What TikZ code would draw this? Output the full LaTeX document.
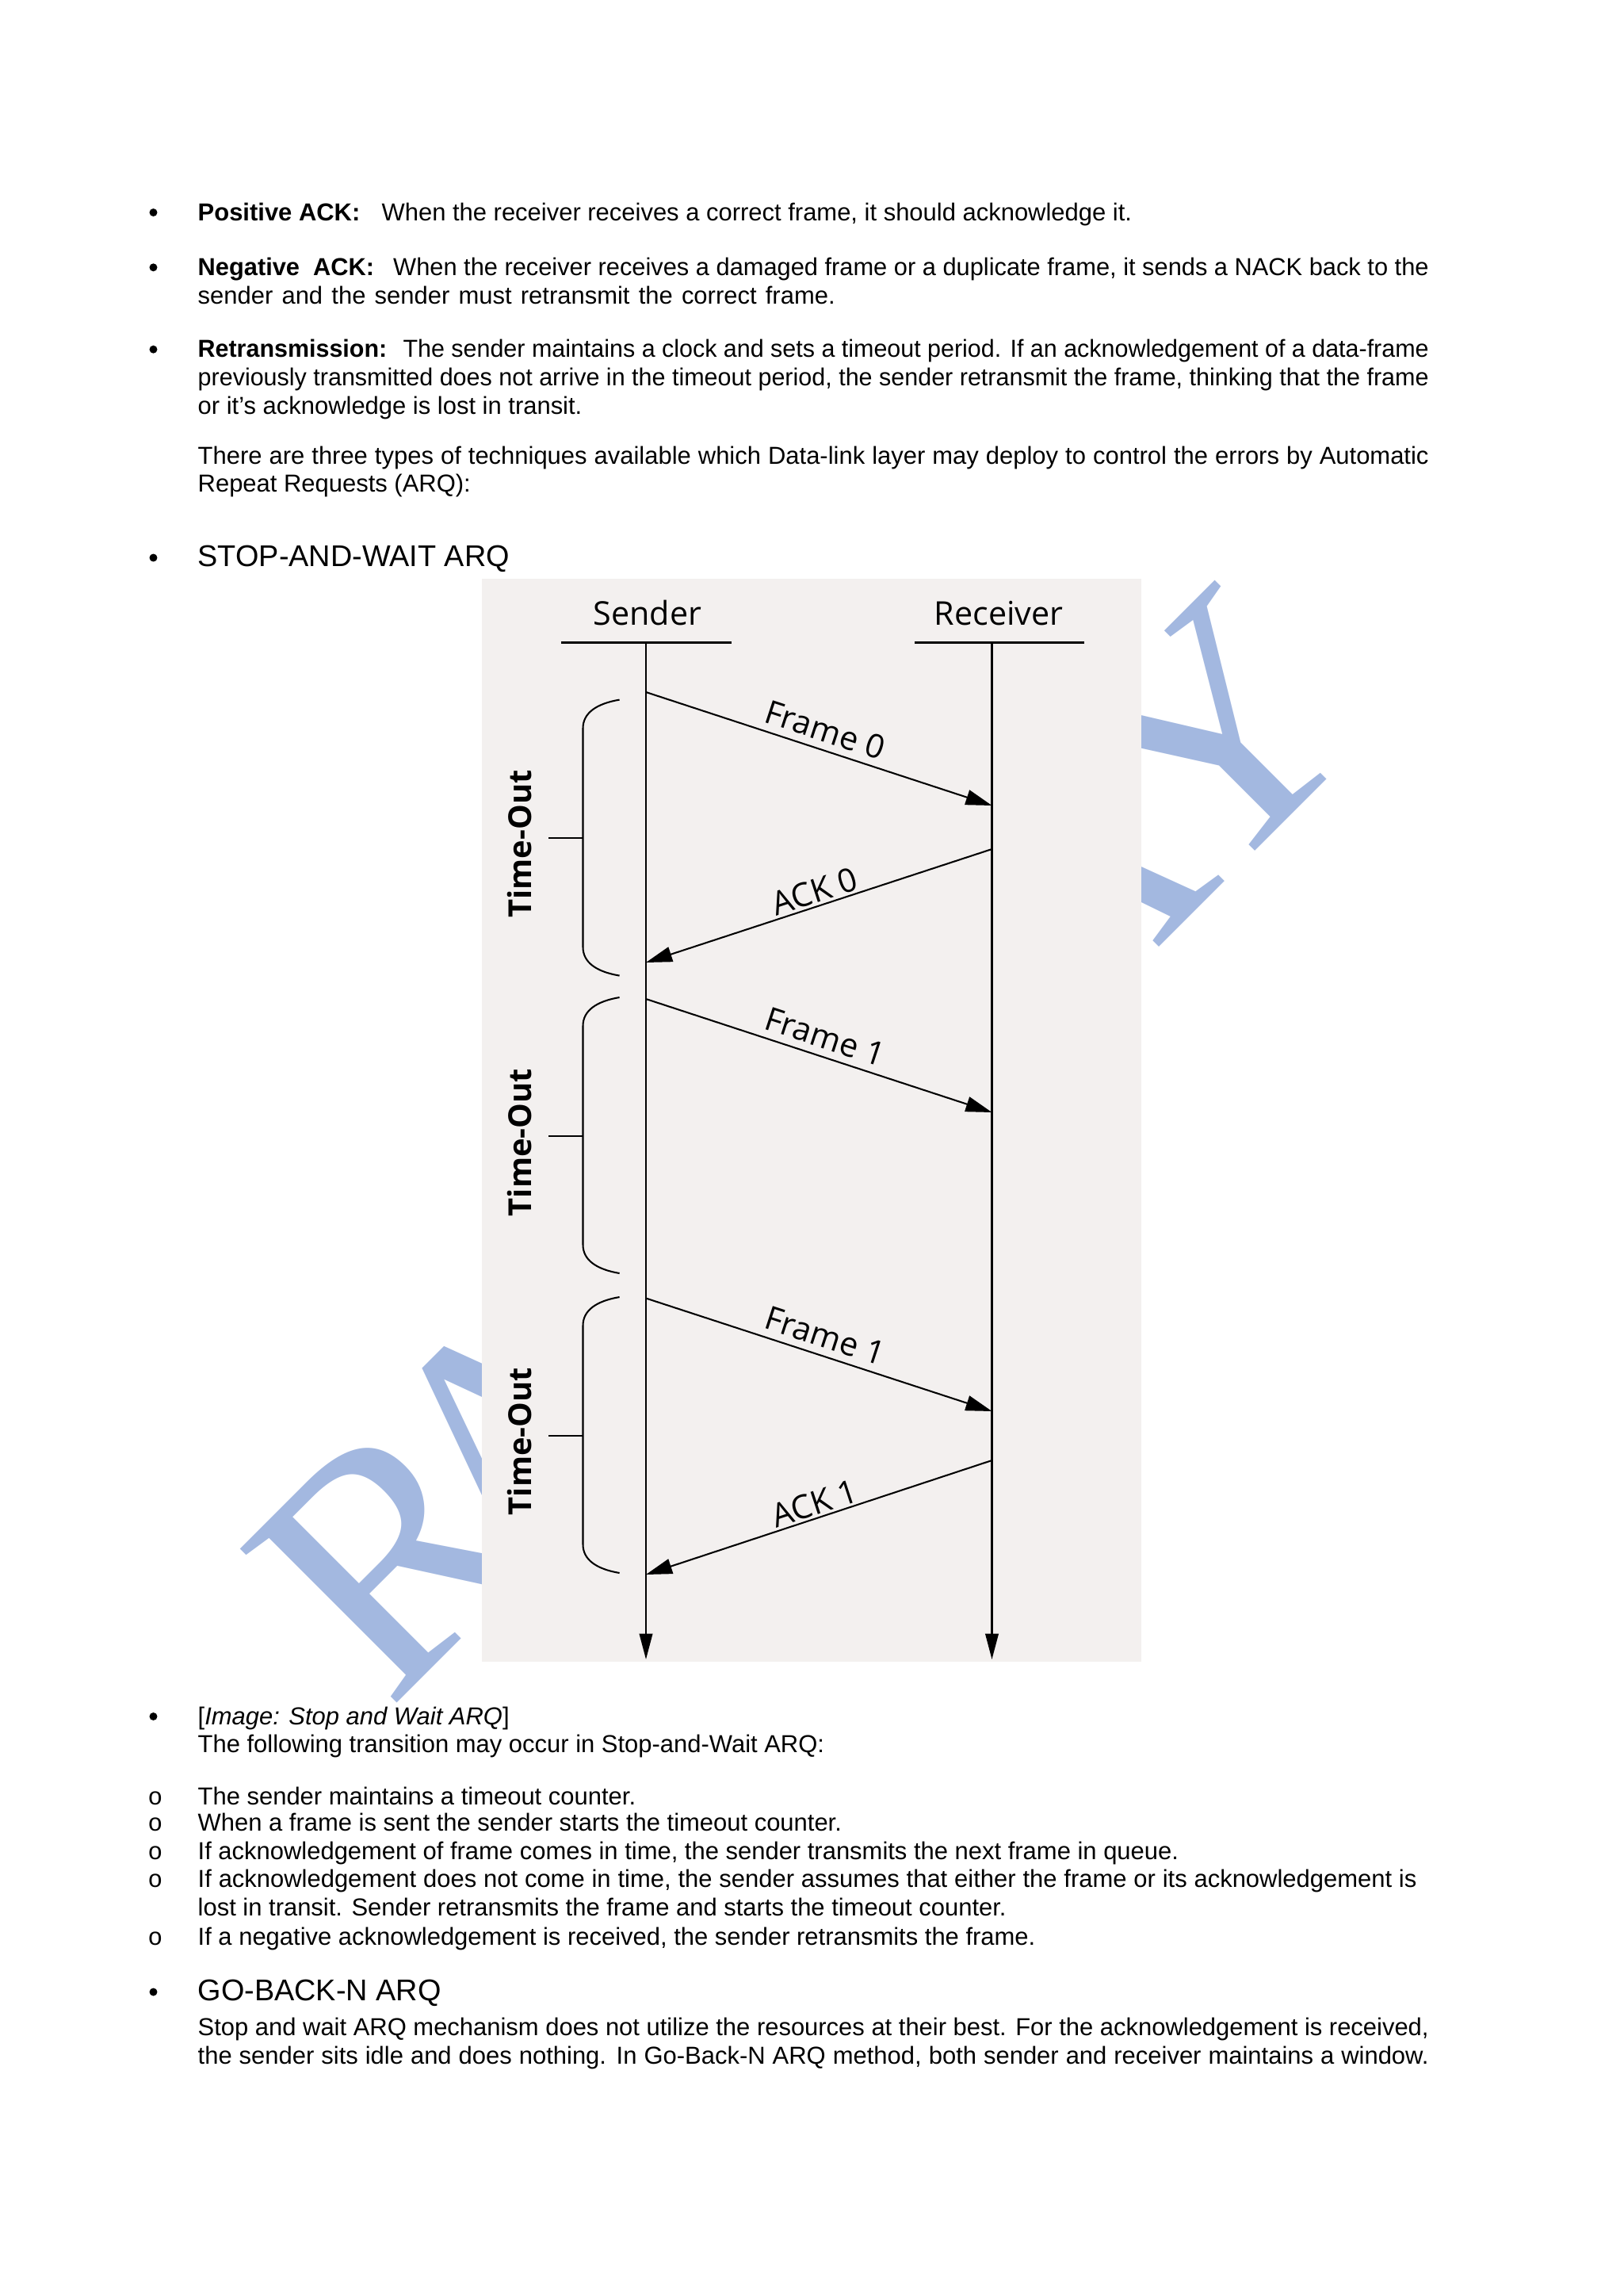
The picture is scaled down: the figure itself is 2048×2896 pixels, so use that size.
\documentclass[tikz,border=0pt]{standalone}
\usepackage{graphicx}
\usepackage{fontspec}
\setmainfont{Liberation Sans}
\newfontfamily\diagfont{Open Sans}
\newfontfamily\wmfont{Liberation Serif}
\newfontfamily\bulmono{Liberation Mono}
\usetikzlibrary{arrows.meta}
\definecolor{wmblue}{RGB}{163,184,224}
\definecolor{imgbg}{RGB}{243,240,239}
\newlength\natw
\newcommand\jline[2]{\settowidth\natw{#2}\ifdim\natw>#1\relax\resizebox{#1}{\height}{#2}\else\hbox to #1{#2}\fi}
\begin{document}
\begin{tikzpicture}[x=0.29066pt,y=-0.29066pt,
 body/.style={anchor=base west,inner sep=0pt,font=\fontsize{9}{10.5}\selectfont},
 headline/.style={anchor=base west,inner sep=0pt,font=\fontsize{11}{13}\selectfont},
 bul/.style={circle,fill=black,inner sep=0pt,minimum size=2.9pt},
 subbul/.style={anchor=base,inner sep=0pt,font=\bulmono\fontsize{9}{10.5}\selectfont},
 wm/.style={inner sep=0pt,rotate=45,anchor=base west,text=wmblue,font=\wmfont\fontsize{123}{123}\selectfont},
 lbl/.style={inner sep=0pt,font=\diagfont\fontsize{12}{14}\selectfont},
 tolbl/.style={inner sep=0pt,rotate=90,anchor=base,font=\diagfont\bfseries\fontsize{11.6}{13}\selectfont},
 lifeline/.style={line width=0.6pt,-{Triangle[length=9.4pt,width=4.8pt]}},
 msg/.style={line width=0.6pt,-{Triangle[length=9.6pt,width=5.6pt]}},
 bracepath/.style={line width=0.6pt},
 uline/.style={line width=0.9pt}]
\useasboundingbox (0,0) rectangle (2048,2896);
\fill[white] (0,0) rectangle (2048,2896);

% ---------- watermark ----------
\node[wm] (wmR) at (490,2159) {R};
\node[wm] (wmA) at (638.5,2016) {A};
\node[wm,anchor=base east] (wmY) at (1737,919.8) {AY};

% ---------- top text ----------
\node[bul] (b1) at (193.5,268) {};
\node[body] (l1) at (249,278) {\textbf{Positive ACK:}\hspace{7.9pt}When the receiver receives a correct frame, it should acknowledge it.};
\node[bul] (b2) at (193.5,337.3) {};
\node[body] (l2) at (249,347.3) {\jline{451.4pt}{\textbf{Negative\ \ ACK:}\hspace{7pt}When the receiver receives a damaged frame or a duplicate frame, it sends a NACK back to the}};
\node[body] (l3) at (249,383) {\jline{233.7pt}{sender and the sender must retransmit the correct frame.}};
\node[bul] (b3) at (193.5,440.7) {};
\node[body] (l4) at (249,450.7) {\jline{451.4pt}{\textbf{Retransmission:}\hspace{6pt}The sender maintains a clock and sets a timeout period. If an acknowledgement of a data-frame}};
\node[body] (l5) at (249,486.7) {\jline{451.4pt}{previously transmitted does not arrive in the timeout period, the sender retransmit the frame, thinking that the frame}};
\node[body] (l6) at (249,522.7) {or it’s acknowledge is lost in transit.};
\node[body] (l7) at (249,585) {\jline{451.4pt}{There are three types of techniques available which Data-link layer may deploy to control the errors by Automatic}};
\node[body] (l8) at (249,620.7) {Repeat Requests (ARQ):};
\node[bul] (b4) at (193.5,703.5) {};
\node[headline] (h1) at (249,714) {STOP-AND-WAIT ARQ};

% ---------- diagram ----------
\fill[imgbg] (608,730) rectangle (1440,2096);
\node[lbl,anchor=base] (sender) at (816.8,788.9) {Sender};
\node[lbl,anchor=base] (receiver) at (1260,788.9) {Receiver};
\coordinate (su1) at (708,810.7); \coordinate (su2) at (922.5,810.7);
\coordinate (ru1) at (1154,810.7); \coordinate (ru2) at (1368,810.7);
\draw[uline] (su1) -- (su2);
\draw[uline] (ru1) -- (ru2);
\coordinate (sTop) at (815,810.7); \coordinate (sBot) at (815,2093);
\coordinate (rTop) at (1251.5,810.7); \coordinate (rBot) at (1251.5,2093);
\draw[lifeline] (sTop) -- (sBot);
\draw[lifeline] (rTop) -- (rBot);

\coordinate (s1) at (815,873);    \coordinate (r1) at (1251.5,1016);
\coordinate (r2) at (1251.5,1071); \coordinate (s2) at (815,1214);
\coordinate (s3) at (815,1260);   \coordinate (r3) at (1251.5,1403);
\coordinate (s4) at (815,1637.5); \coordinate (r4) at (1251.5,1780);
\coordinate (r5) at (1251.5,1842); \coordinate (s5) at (815,1986);

\draw[msg] (s1) -- node[lbl,sloped,above,inner sep=2.6pt,pos=0.5] (f0) {Frame 0} (r1);
\draw[msg] (r2) -- node[lbl,sloped,above,inner sep=0.8pt,pos=0.5] (a0) {ACK 0} (s2);
\draw[msg] (s3) -- node[lbl,sloped,above,inner sep=2.6pt,pos=0.5] (f1) {Frame 1} (r3);
\draw[msg] (s4) -- node[lbl,sloped,above,inner sep=2.6pt,pos=0.5] (f1b) {Frame 1} (r4);
\draw[msg] (r5) -- node[lbl,sloped,above,inner sep=0.8pt,pos=0.5] (a1) {ACK 1} (s5);

% braces
\foreach \T/\M in {882.6/1056.8, 1258/1433, 1636/1811}{
  \draw[bracepath] (781.6,\T) .. controls (752,\T+5) and (735.5,\T+17) .. (735.5,\T+36)
     -- (735.5,\T+312) .. controls (735.5,\T+331) and (752,\T+343) .. (781.6,\T+348);
  \draw[bracepath] (692,\M) -- (735.5,\M);
}
\node[tolbl] (t1) at (670.5,1064.5) {Time-Out};
\node[tolbl] (t2) at (670.5,1441) {Time-Out};
\node[tolbl] (t3) at (670.5,1818) {Time-Out};

% ---------- bottom text ----------
\node[bul] (b5) at (193.5,2165) {};
\node[body] (l11) at (249,2175) {[\textit{Image: Stop and Wait ARQ}]};
\node[body] (l12) at (249,2210.7) {The following transition may occur in Stop-and-Wait ARQ:};
\node[subbul] (o1) at (196,2276) {o};
\node[body] (l13) at (249,2276) {The sender maintains a timeout counter.};
\node[subbul] (o2) at (196,2309) {o};
\node[body] (l14) at (249,2309) {When a frame is sent the sender starts the timeout counter.};
\node[subbul] (o3) at (196,2345) {o};
\node[body] (l15) at (249,2345) {If acknowledgement of frame comes in time, the sender transmits the next frame in queue.};
\node[subbul] (o4) at (196,2380) {o};
\node[body] (l16) at (249,2380) {\jline{447pt}{If acknowledgement does not come in time, the sender assumes that either the frame or its acknowledgement is}};
\node[body] (l17) at (249,2416.7) {lost in transit. Sender retransmits the frame and starts the timeout counter.};
\node[subbul] (o5) at (196,2453) {o};
\node[body] (l18) at (249,2453) {If a negative acknowledgement is received, the sender retransmits the frame.};
\node[bul] (b6) at (193.5,2512.5) {};
\node[headline] (h2) at (249,2523) {GO-BACK-N ARQ};
\node[body] (l20) at (249,2567) {\jline{451.4pt}{Stop and wait ARQ mechanism does not utilize the resources at their best. For the acknowledgement is received,}};
\node[body] (l21) at (249,2603) {\jline{451.4pt}{the sender sits idle and does nothing. In Go-Back-N ARQ method, both sender and receiver maintains a window.}};
\end{tikzpicture}
\end{document}
